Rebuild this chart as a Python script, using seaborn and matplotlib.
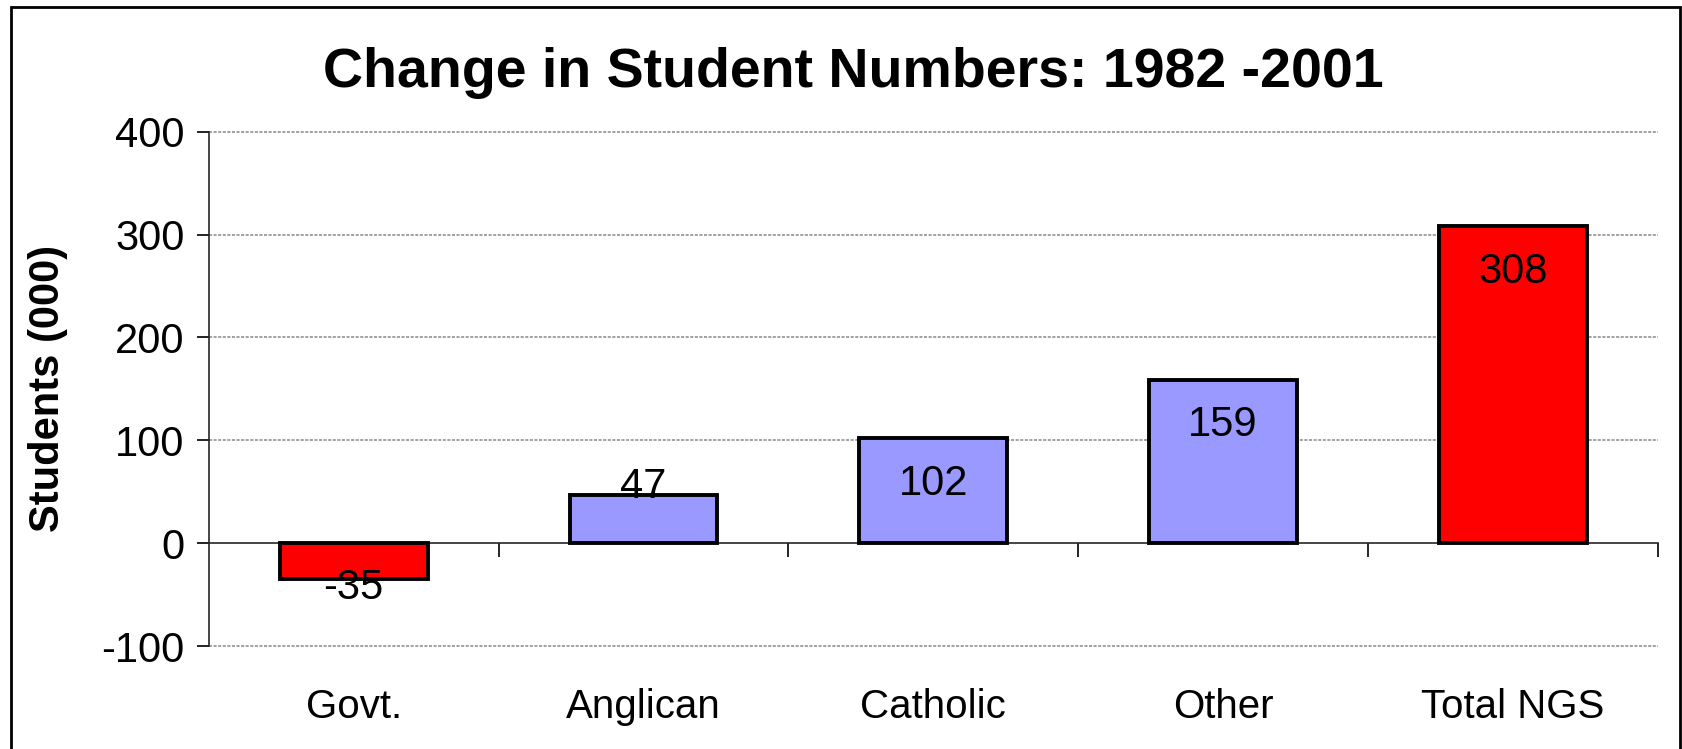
import matplotlib
matplotlib.use("Agg")
import matplotlib.pyplot as plt
import seaborn as sns
import pandas as pd
from matplotlib.patches import Rectangle

# dados
categorias = ["Govt.", "Anglican", "Catholic", "Other", "Total NGS"]
valores = [-35, 47, 102, 159, 308]
cores = ["#FF0000", "#9999FF", "#9999FF", "#9999FF", "#FF0000"]
yticks = [-100, 0, 100, 200, 300, 400]

df = pd.DataFrame({"Categoria": categorias, "Valor": valores})

sns.set_style("white")
plt.rcParams["font.family"] = ["Liberation Sans", "DejaVu Sans"]
plt.rcParams.update({"text.color": "black", "axes.labelcolor": "black",
                     "xtick.color": "black", "ytick.color": "black"})

fig = plt.figure(figsize=(16.83, 7.49), dpi=100)
ax = fig.add_axes([0.124, 0.1375, 0.861, 0.6865])

sns.barplot(x="Categoria", y="Valor", data=df, hue="Categoria", palette=cores,
            legend=False, width=0.51, edgecolor="black", linewidth=2.8,
            saturation=1, ax=ax, zorder=3)

ax.set_ylim(-100, 400)
ax.set_xlim(-0.5, 4.5)
ax.set_yticks(yticks)
ax.set_yticklabels([str(v) for v in yticks], fontsize=30)

# grade pontilhada (menos o zero)
for v in yticks:
    if v != 0:
        ax.axhline(v, color="#888888", linestyle=(0, (2, 1)), linewidth=1.1,
                   zorder=2, clip_on=False)

for s in ["top", "right"]:
    ax.spines[s].set_visible(False)
ax.spines["bottom"].set_position(("data", 0))
ax.spines["bottom"].set_linewidth(1.2)
ax.spines["left"].set_linewidth(1.2)
ax.spines["bottom"].set_zorder(2)

ax.set_xticks([0.5, 1.5, 2.5, 3.5, 4.5], minor=True)
ax.tick_params(axis="x", which="both", bottom=True)
ax.tick_params(axis="x", which="minor", length=10, width=1.2, direction="out")
ax.tick_params(axis="x", which="major", length=0, pad=104, labelsize=29)
ax.tick_params(axis="y", which="major", left=True, length=9, width=1.2,
               direction="out", pad=8.5)

ax.set_xlabel("")
ax.set_ylabel("Students (000)", fontsize=30, fontweight="bold", labelpad=24)
fig.suptitle("Change in Student Numbers: 1982 -2001", fontsize=40,
             fontweight="bold", x=0.507, y=0.937)

# rotulos de dados
for i, v in enumerate(valores):
    if abs(v) < 60:
        y = v + (8 if v > 0 else -9)
    else:
        y = v - 44
    ax.text(i, y, str(v), ha="center", va="center", fontsize=30, zorder=4)

fig.patches.append(Rectangle((0.0065, -0.01), 0.9915, 1.0007, transform=fig.transFigure,
                             fill=False, edgecolor="black", linewidth=2, clip_on=False))

fig.savefig("out.png", dpi=100)
